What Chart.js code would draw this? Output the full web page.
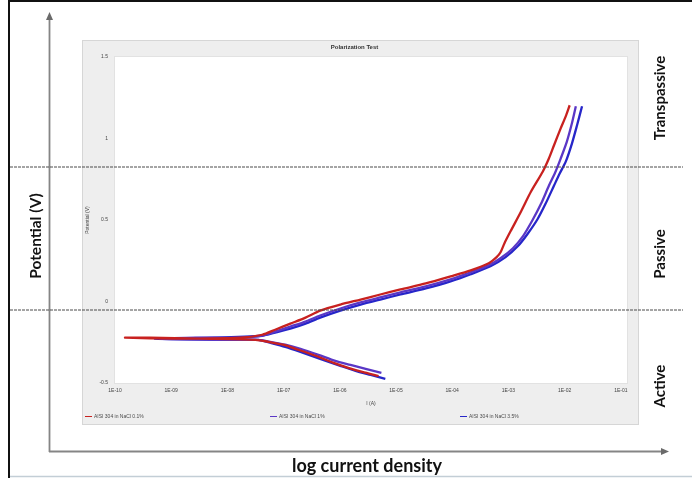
<!DOCTYPE html>
<html>
<head>
<meta charset="utf-8">
<title>Polarization curves</title>
<script src="https://cdn.jsdelivr.net/npm/chart.js@4.4.0/dist/chart.umd.min.js"></script>
<style>
  html, body { margin: 0; padding: 0; background: #fff; }
  #wrap { position: relative; width: 692px; height: 478px; overflow: hidden; background: #fff; }
  #panel { position: absolute; left: 82px; top: 40px; width: 557px; height: 385px; background: #eeeeee;
           outline: 1px solid #d6d6d6; outline-offset: -1px; }
  #panel canvas { position: absolute; left: 0; top: 0; }
  #legend { position: absolute; left: 0; top: 372px; width: 557px; height: 10px; }
  .lg { position: absolute; top: 0; font: 5px "Liberation Sans", Arial, sans-serif; color: #4a4a4a;
        white-space: nowrap; line-height: 8px; }
  .lg i { display: inline-block; width: 7px; height: 1.5px; vertical-align: middle; margin-right: 2px; }
  #overlay { position: absolute; left: 0; top: 0; }
  #overlay text { font-family: Lato, "Liberation Sans", sans-serif; font-weight: 700; fill: #111; }
</style>
</head>
<body>
<div id="wrap">
  <div id="panel">
    <canvas id="chart" width="557" height="385"></canvas>
    <div id="legend"></div>
  </div>
  <svg id="overlay" width="692" height="478" viewBox="0 0 692 478">
    <!-- frame -->
    <line x1="9" y1="0" x2="9" y2="478" stroke="#111" stroke-width="2"/>
    <line x1="8" y1="1" x2="692" y2="1" stroke="#111" stroke-width="2"/>
    <line x1="10" y1="476.5" x2="692" y2="476.5" stroke="#c3ced6" stroke-width="1.5"/>
    <!-- outer axes -->
    <line x1="49.5" y1="452" x2="49.5" y2="18" stroke="#858585" stroke-width="1.8"/>
    <polygon points="49.5,12 46,20 53,20" fill="#6a6a6a"/>
    <line x1="49" y1="451.5" x2="663" y2="451.5" stroke="#858585" stroke-width="1.8"/>
    <polygon points="669,451.5 661,448 661,455" fill="#6a6a6a"/>
    <!-- region boundaries -->
    <line x1="10" y1="167" x2="683" y2="167" stroke="#4a4a4a" stroke-width="1" stroke-dasharray="3,1"/>
    <line x1="10" y1="310" x2="683" y2="310" stroke="#4a4a4a" stroke-width="1" stroke-dasharray="3,1"/>
    <!-- labels -->
    <text x="35" y="236" font-size="15.5" text-anchor="middle" dominant-baseline="central" transform="rotate(-90 35 236)">Potential (V)</text>
    <text x="367" y="465" font-size="18" text-anchor="middle" dominant-baseline="central">log current density</text>
    <text x="659" y="98" font-size="15" text-anchor="middle" dominant-baseline="central" transform="rotate(-90 659 98)">Transpassive</text>
    <text x="659" y="254" font-size="15" text-anchor="middle" dominant-baseline="central" transform="rotate(-90 659 254)">Passive</text>
    <text x="659" y="386" font-size="15" text-anchor="middle" dominant-baseline="central" transform="rotate(-90 659 386)">Active</text>
  </svg>
</div>

<script>
// Scan data: log10 of current density and potential (V), in scan order
// (cathodic branch -> corrosion potential -> anodic branch).
const seriesNames = ['AISI 304 in NaCl 0.1%', 'AISI 304 in NaCl 1%', 'AISI 304 in NaCl 3.5%'];
const seriesColors = ['#c8211f', '#5a37c6', '#2626c9'];

const logI_1 = [-5.31, -5.60, -5.85, -6.11, -6.43, -6.74, -7.01, -7.27, -7.50, -8.48, -9.38, -9.82, -8.93, -7.77,
                -7.38, -7.15, -6.88, -6.61, -6.35, -5.99, -5.63, -5.28, -4.92, -4.47, -4.03, -3.67, -3.35, -3.21,
                -3.14, -3.07, -2.96, -2.78, -2.60, -2.39, -2.28, -2.19, -2.07, -1.98, -1.91];
const E_1    = [-0.457, -0.432, -0.407, -0.377, -0.333, -0.296, -0.265, -0.247, -0.235, -0.228, -0.222, -0.222, -0.228, -0.222,
                -0.204, -0.173, -0.136, -0.099, -0.056, -0.019, 0.012, 0.043, 0.074, 0.111, 0.154, 0.191, 0.235, 0.272,
                0.302, 0.358, 0.432, 0.549, 0.673, 0.796, 0.877, 0.957, 1.062, 1.136, 1.204];

const logI_2 = [-5.26, -5.54, -5.81, -6.08, -6.38, -6.70, -6.97, -7.24, -7.45, -8.22, -9.20, -8.57, -7.77,
                -7.38, -7.15, -6.88, -6.61, -6.35, -5.99, -5.63, -5.28, -4.92, -4.47, -4.03, -3.67, -3.35, -3.14,
                -2.92, -2.74, -2.57, -2.42, -2.28, -2.17, -2.07, -1.96, -1.87, -1.80];
const E_2    = [-0.438, -0.414, -0.389, -0.364, -0.327, -0.290, -0.265, -0.247, -0.235, -0.235, -0.228, -0.222, -0.222,
                -0.210, -0.185, -0.154, -0.123, -0.086, -0.043, -0.006, 0.025, 0.056, 0.093, 0.136, 0.179, 0.222, 0.265,
                0.327, 0.401, 0.500, 0.599, 0.710, 0.790, 0.877, 0.981, 1.093, 1.198];

const logI_3 = [-5.19, -5.45, -5.72, -5.99, -6.35, -6.70, -6.97, -7.24, -7.45, -7.95, -9.29, -8.22,
                -7.38, -7.15, -6.88, -6.61, -6.35, -5.99, -5.63, -5.28, -4.92, -4.47, -4.03, -3.67, -3.32, -3.05,
                -2.83, -2.66, -2.48, -2.34, -2.19, -2.09, -1.98, -1.87, -1.78, -1.69];
const E_3    = [-0.475, -0.451, -0.426, -0.395, -0.352, -0.309, -0.278, -0.253, -0.235, -0.235, -0.228, -0.222,
                -0.210, -0.191, -0.167, -0.136, -0.099, -0.056, -0.019, 0.012, 0.043, 0.080, 0.123, 0.167, 0.216, 0.272,
                0.340, 0.414, 0.506, 0.599, 0.710, 0.784, 0.858, 0.969, 1.080, 1.198];

const xTickDecades = [-10, -9, -8, -7, -6, -5, -4, -3, -2, -1];
const yTickValues = [-0.5, 0, 0.5, 1, 1.5];
const chartTitle = 'Polarization Test';
const xTitle = 'I (A)';
const yTitle = 'Potential (V)';

const logI = [logI_1, logI_2, logI_3];
const E = [E_1, E_2, E_3];

const datasets = seriesNames.map((name, s) => ({
  label: name,
  data: logI[s].map((v, i) => ({ x: v, y: E[s][i] })),
  showLine: true,
  borderColor: seriesColors[s],
  backgroundColor: seriesColors[s],
  borderWidth: 2.3,
  pointRadius: 0,
  tension: 0.25
}));

const tinyFont = { family: '"Liberation Sans", Arial, sans-serif', size: 5 };

const plotBackground = {
  id: 'plotBackground',
  beforeDraw(chart) {
    const { ctx, chartArea: a } = chart;
    ctx.save();
    ctx.fillStyle = '#ffffff';
    ctx.fillRect(a.left, a.top, a.right - a.left, a.bottom - a.top);
    ctx.strokeStyle = '#e2e2e2';
    ctx.lineWidth = 1;
    ctx.strokeRect(a.left - 0.5, a.top - 0.5, a.right - a.left + 1, a.bottom - a.top + 1);
    ctx.restore();
  }
};

const chart = new Chart(document.getElementById('chart'), {
  type: 'scatter',
  data: { datasets },
  options: {
    responsive: false,
    animation: false,
    devicePixelRatio: 1,
    layout: { padding: { left: 0, right: 12, top: 4, bottom: 13 } },
    plugins: {
      legend: { display: false },
      tooltip: { enabled: false },
      title: {
        display: true, text: chartTitle, color: '#333',
        font: { family: tinyFont.family, size: 6 },
        padding: { top: 0, bottom: 5.8 }
      }
    },
    scales: {
      x: {
        type: 'linear', min: xTickDecades[0], max: -0.89,
        grid: { display: false, drawTicks: false }, border: { display: false },
        afterBuildTicks: s => { s.ticks = xTickDecades.map(v => ({ value: v })); },
        ticks: {
          autoSkip: false, maxRotation: 0, padding: 5, color: '#444', font: tinyFont,
          callback: v => '1E' + (v < 0 ? '-' : '+') + String(Math.abs(v)).padStart(2, '0')
        },
        title: { display: true, text: xTitle, color: '#444', font: tinyFont, padding: { top: 0, bottom: 5 } },
        afterFit: s => { s.height = 29; }
      },
      y: {
        type: 'linear', min: yTickValues[0], max: yTickValues[yTickValues.length - 1],
        grid: { display: false, drawTicks: false }, border: { display: false },
        afterBuildTicks: s => { s.ticks = yTickValues.map(v => ({ value: v })); },
        ticks: { padding: 7, color: '#444', font: tinyFont, callback: v => String(v) },
        title: { display: true, text: yTitle, color: '#444', font: tinyFont, padding: { top: 3, bottom: 0 } },
        afterFit: s => { s.width = 33; }
      }
    }
  },
  plugins: [plotBackground]
});

// Legend row built from the chart's own datasets
const legendEl = document.getElementById('legend');
const legendLeft = [3, 188, 378];
chart.data.datasets.forEach((ds, i) => {
  const item = document.createElement('div');
  item.className = 'lg';
  item.style.left = legendLeft[i] + 'px';
  const mark = document.createElement('i');
  mark.style.background = ds.borderColor;
  item.appendChild(mark);
  item.appendChild(document.createTextNode(ds.label));
  legendEl.appendChild(item);
});
</script>
</body>
</html>
